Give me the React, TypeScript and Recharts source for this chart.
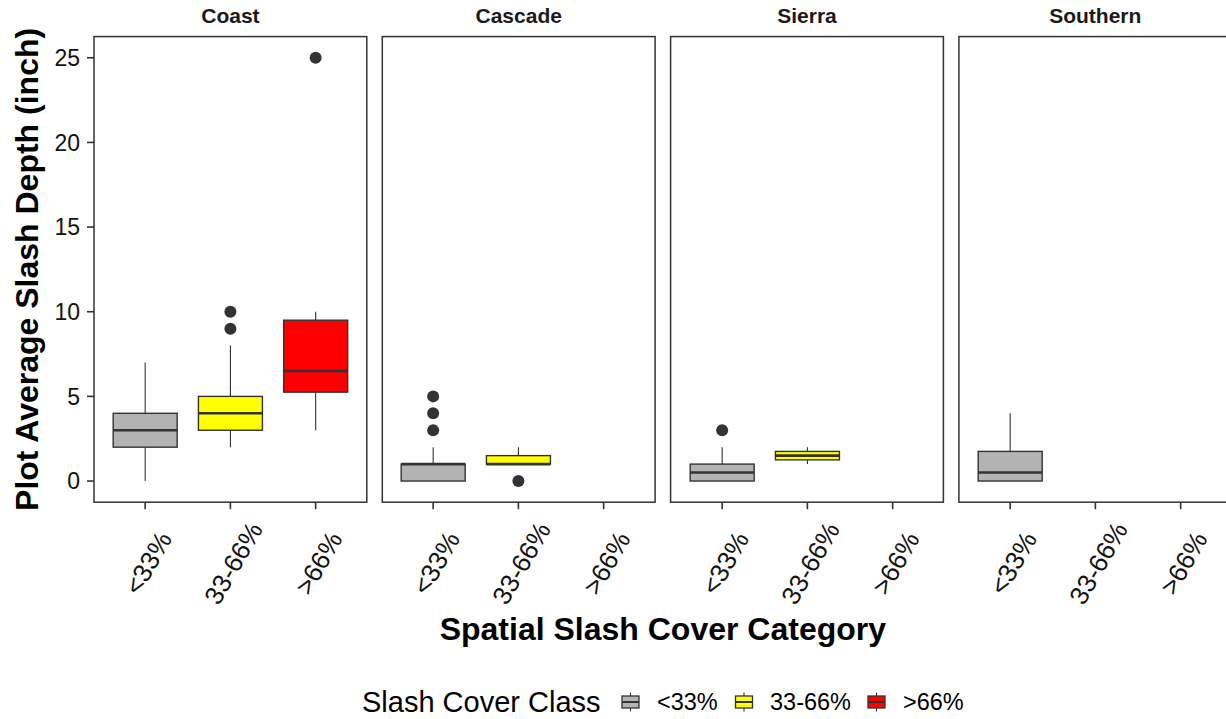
import React from 'react';
import { ComposedChart, Bar, Scatter, XAxis, YAxis } from 'recharts';

// Facets and cover classes
const regions = ['Coast', 'Cascade', 'Sierra', 'Southern'];
const coverClasses = ['<33%', '33-66%', '>66%'];
const classColors = ['#B3B3B3', '#FFFF00', '#FF0000'];

// Box-plot statistics, one list per region, one entry per cover class (null = no plots)
const whiskerLow = [[0, 2, 3], [0, 1, null], [0, 1, null], [0, null, null]];
const boxLow = [[2, 3, 5.25], [0, 1, null], [0, 1.25, null], [0, null, null]];
const medians = [[3, 4, 6.5], [1, 1, null], [0.5, 1.5, null], [0.5, null, null]];
const boxHigh = [[4, 5, 9.5], [1, 1.5, null], [1, 1.75, null], [1.75, null, null]];
const whiskerHigh = [[7, 8, 10], [2, 2, null], [2, 2, null], [4, null, null]];
const outliers = [
  [[], [9, 10], [25]],
  [[3, 4, 5], [0], []],
  [[3], [], []],
  [[], [], []],
];

const yTicks = [0, 5, 10, 15, 20, 25];
const yDomain = [-1.25, 26.25];

const FONT = '"Liberation Sans", Arial, Helvetica, sans-serif';
const INK = '#333333';

// layout of the facet panels
const PANEL_TOP = 36.6;
const PANEL_BOTTOM = 502.2;
const PANEL_W = 272.8;
const PANEL_LEFTS = [94, 382.3, 670.6, 958.9];
const Y_AXIS_W = 94;
const CHART_H = 650;
const X_AXIS_H = CHART_H - PANEL_BOTTOM;
const X_PAD = PANEL_W * 0.03125;

const buildRows = (r: number) =>
  coverClasses.map((cls, j) => ({
    cls,
    fill: classColors[j],
    whisker: whiskerLow[r][j] == null ? null : [whiskerLow[r][j], whiskerHigh[r][j]],
    q1: boxLow[r][j],
    med: medians[r][j],
    q3: boxHigh[r][j],
    o1: outliers[r][j][0] ?? null,
    o2: outliers[r][j][1] ?? null,
    o3: outliers[r][j][2] ?? null,
  }));

// Draws whiskers, box and median from the bar that spans the whisker range
const BoxShape = (props: any) => {
  const { x, y, width, height, payload } = props;
  if (!payload || payload.whisker == null) return <g />;
  const [lo, hi] = payload.whisker;
  const top = Math.min(y, y + height);
  const k = Math.abs(height) / (hi - lo);
  const py = (v: number) => top + (hi - v) * k;
  const cx = x + width / 2;
  return (
    <g>
      <line x1={cx} x2={cx} y1={py(hi)} y2={py(payload.q3)} stroke={INK} strokeWidth={1.1} />
      <line x1={cx} x2={cx} y1={py(payload.q1)} y2={py(lo)} stroke={INK} strokeWidth={1.1} />
      <rect
        x={x}
        y={py(payload.q3)}
        width={width}
        height={py(payload.q1) - py(payload.q3)}
        fill={payload.fill}
        stroke={INK}
        strokeWidth={1.4}
      />
      <line x1={x} x2={x + width} y1={py(payload.med)} y2={py(payload.med)} stroke={INK} strokeWidth={2.6} />
    </g>
  );
};

const outlierShape = (key: string) => (props: any) => {
  if (!props.payload || props.payload[key] == null) return <g />;
  return <circle cx={props.cx} cy={props.cy} r={6} fill={INK} />;
};

const ClassTick = (props: any) => {
  const { x, y, payload } = props;
  const cy = y + 52;
  const cx = x + 3;
  return (
    <text
      x={cx}
      y={cy}
      transform={`rotate(-60, ${cx}, ${cy})`}
      textAnchor="middle"
      dominantBaseline="central"
      fontSize={26}
      fontFamily={FONT}
      fill="#111"
    >
      {payload.value}
    </text>
  );
};

const Panel = ({ r }: { r: number }) => {
  const first = r === 0;
  const left = first ? PANEL_LEFTS[r] - Y_AXIS_W : PANEL_LEFTS[r];
  const width = first ? PANEL_W + Y_AXIS_W : PANEL_W;
  return (
    <div style={{ position: 'absolute', left, top: 0 }}>
      <ComposedChart
        width={width}
        height={CHART_H}
        data={buildRows(r)}
        margin={{ top: PANEL_TOP, right: 0, bottom: 0, left: 0 }}
        barCategoryGap="12.5%"
      >
        <XAxis
          dataKey="cls"
          type="category"
          padding={{ left: X_PAD, right: X_PAD }}
          height={X_AXIS_H}
          axisLine={false}
          tickSize={7}
          tickMargin={2}
          tickLine={{ stroke: INK, strokeWidth: 1.6 }}
          tick={<ClassTick />}
          interval={0}
        />
        <YAxis
          type="number"
          domain={yDomain}
          ticks={yTicks}
          allowDataOverflow
          hide={!first}
          width={Y_AXIS_W}
          axisLine={false}
          tickSize={7}
          tickMargin={7}
          tickLine={{ stroke: INK, strokeWidth: 1.6 }}
          tick={{ fontSize: 23, fontFamily: FONT, fill: '#111' }}
        />
        <Bar dataKey="whisker" shape={<BoxShape />} isAnimationActive={false} />
        <Scatter dataKey="o1" shape={outlierShape('o1')} isAnimationActive={false} />
        <Scatter dataKey="o2" shape={outlierShape('o2')} isAnimationActive={false} />
        <Scatter dataKey="o3" shape={outlierShape('o3')} isAnimationActive={false} />
      </ComposedChart>
    </div>
  );
};

const legendKeyX = [630.5, 744, 876.5];
const legendLabelX = [657, 770, 903];

export default function App() {
  const plotMid = (PANEL_LEFTS[0] + PANEL_LEFTS[3] + PANEL_W) / 2;
  return (
    <div
      style={{
        position: 'absolute',
        left: 0,
        top: 0,
        width: 1226,
        height: 719,
        overflow: 'hidden',
        background: '#fff',
        fontFamily: FONT,
      }}
    >
      {regions.map((_, r) => (
        <Panel key={r} r={r} />
      ))}
      <svg
        width={1240}
        height={719}
        style={{ position: 'absolute', left: 0, top: 0, pointerEvents: 'none' }}
      >
        {regions.map((name, r) => (
          <g key={name}>
            <rect
              x={PANEL_LEFTS[r]}
              y={PANEL_TOP}
              width={PANEL_W}
              height={PANEL_BOTTOM - PANEL_TOP}
              fill="none"
              stroke={INK}
              strokeWidth={1.5}
            />
            <text
              x={PANEL_LEFTS[r] + PANEL_W / 2}
              y={23}
              textAnchor="middle"
              fontSize={21}
              fontWeight="bold"
              fontFamily={FONT}
              fill="#1a1a1a"
            >
              {name}
            </text>
          </g>
        ))}
        <text
          transform={`translate(38, ${(PANEL_TOP + PANEL_BOTTOM) / 2}) rotate(-90)`}
          textAnchor="middle"
          fontSize={32}
          fontWeight="bold"
          fontFamily={FONT}
          fill="#000"
        >
          Plot Average Slash Depth (inch)
        </text>
        <text
          x={plotMid}
          y={640}
          textAnchor="middle"
          fontSize={32}
          fontWeight="bold"
          fontFamily={FONT}
          fill="#000"
        >
          Spatial Slash Cover Category
        </text>
        <text x={362} y={712} fontSize={29} fontFamily={FONT} fill="#000">
          Slash Cover Class
        </text>
        {coverClasses.map((cls, j) => (
          <g key={cls}>
            <line x1={legendKeyX[j]} x2={legendKeyX[j]} y1={692.5} y2={711.5} stroke={INK} strokeWidth={1.1} />
            <rect
              x={legendKeyX[j] - 8.5}
              y={696}
              width={17}
              height={12}
              fill={classColors[j]}
              stroke={INK}
              strokeWidth={1.3}
            />
            <line x1={legendKeyX[j] - 8.5} x2={legendKeyX[j] + 8.5} y1={702} y2={702} stroke={INK} strokeWidth={2} />
            <text x={legendLabelX[j]} y={710} fontSize={23.5} fontFamily={FONT} fill="#000">
              {cls}
            </text>
          </g>
        ))}
      </svg>
    </div>
  );
}
